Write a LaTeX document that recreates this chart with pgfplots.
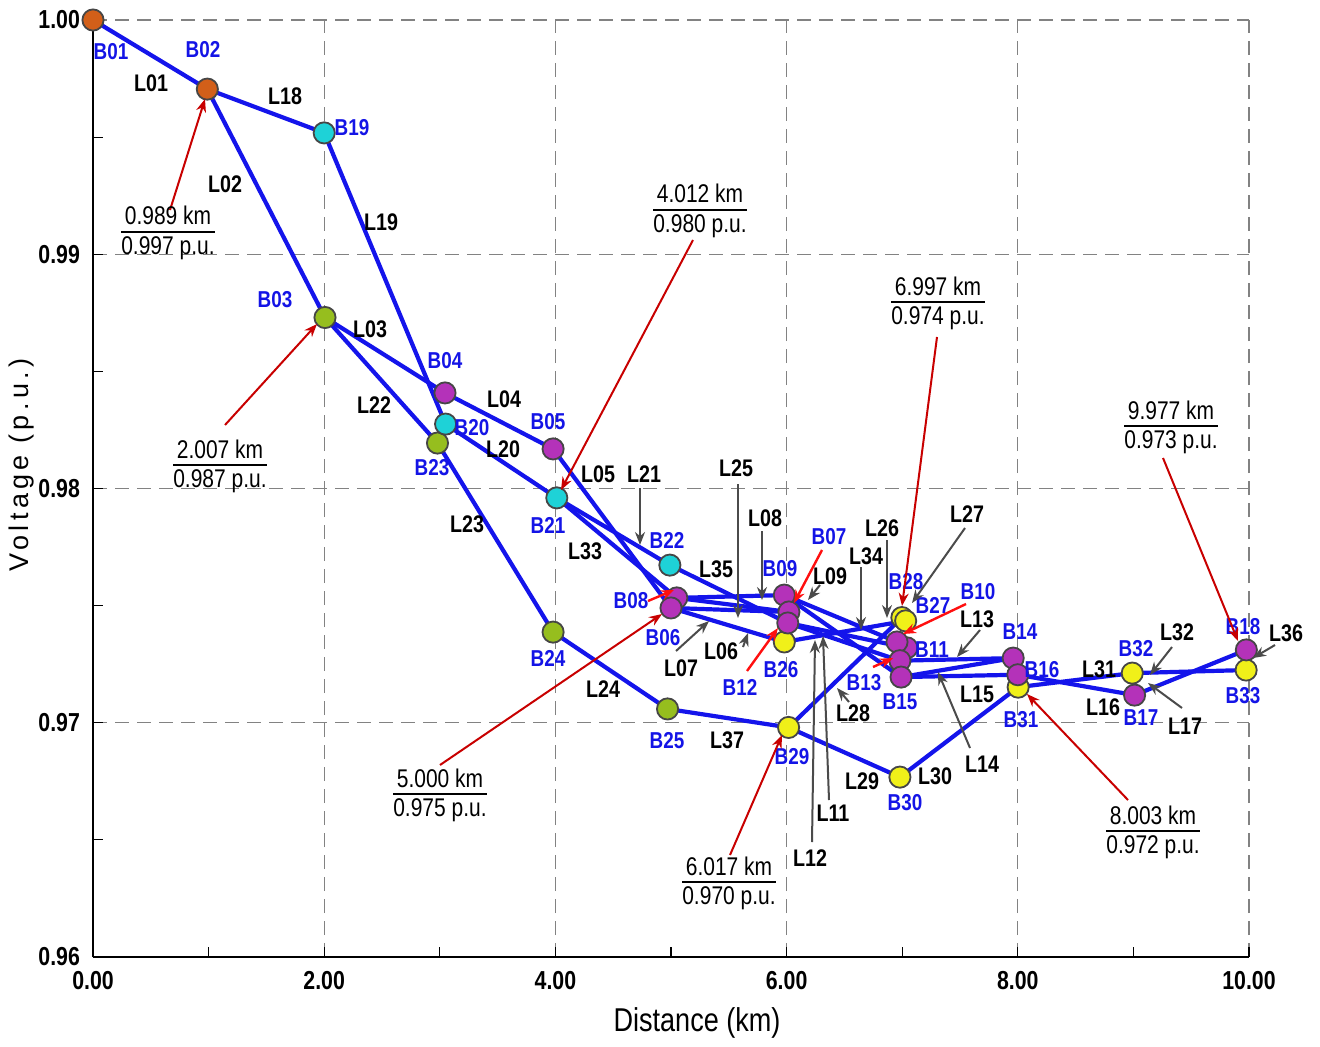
\documentclass[border=0pt]{standalone}
\usepackage{fontspec}
\setmainfont{Liberation Sans}
\newfontfamily\condfont[FakeStretch=0.82]{Liberation Sans}
\newfontfamily\spacedfont[LetterSpace=16]{Liberation Sans}
\usepackage{pgfplots}
\pgfplotsset{compat=1.18}
\usetikzlibrary{arrows.meta}

\definecolor{netblue}{RGB}{20,20,235}
\definecolor{busblue}{RGB}{20,20,230}
\definecolor{busorange}{RGB}{210,95,25}
\definecolor{buscyan}{RGB}{30,210,215}
\definecolor{busgreen}{RGB}{150,190,30}
\definecolor{busmag}{RGB}{180,50,185}
\definecolor{busyellow}{RGB}{240,240,25}
\definecolor{markedge}{RGB}{70,70,70}
\definecolor{annred}{RGB}{200,0,0}
\definecolor{hlred}{RGB}{255,15,15}
\definecolor{arrgray}{RGB}{75,75,75}
\definecolor{gridgray}{RGB}{130,130,130}

\newcommand{\tickf}{\condfont\bfseries\fontsize{13}{15}\selectfont}
\newcommand{\busf}{\condfont\bfseries\fontsize{11.5}{13}\selectfont}
\newcommand{\linef}{\condfont\bfseries\fontsize{12}{14}\selectfont}
\newcommand{\annf}{\condfont\fontsize{12.8}{14}\selectfont}
\setlength{\arrayrulewidth}{0.9pt}
\newcommand{\ann}[2]{\begin{tabular}{@{}c@{}}#1\\[-1pt]\hline\rule{0pt}{10.5pt}#2\end{tabular}}

\begin{document}
\begin{tikzpicture}
\useasboundingbox (0,0) rectangle (660pt,523pt);
\begin{axis}[
  at={(46.5pt,44.5pt)}, anchor=south west,
  scale only axis, width=578pt, height=468.5pt,
  xmin=0, xmax=10, ymin=0.96, ymax=1.0,
  clip=false,
  axis x line*=bottom, axis y line*=left,
  x axis line style={black, line width=1.3pt},
  y axis line style={black, line width=0.7pt},
  xtick={0,2,4,6,8,10},
  ytick={0.96,0.97,0.98,0.99,1.00},
  minor x tick num=1, minor y tick num=1,
  tick align=inside,
  major tick length=5pt, minor tick length=5pt,
  tick style={black, line width=0.6pt},
  grid=major,
  major grid style={gridgray, line width=0.6pt, dash pattern=on 7pt off 4pt},
  scaled ticks=false,
  /pgf/number format/fixed,
  /pgf/number format/fixed zerofill,
  /pgf/number format/precision=2,
  /pgf/number format/assume math mode=true,
  xticklabel style={font=\tickf, yshift=-3.5pt},
  yticklabel style={font=\tickf, xshift=-3pt},
  edge/.style={netblue, line width=2.1pt, forget plot},
  bus/.style={only marks, mark=*, mark size=5.3pt,
    mark options={fill=#1, draw=markedge, line width=0.9pt}},
]
% feeder sections L01 ... L37
\addplot[edge] coordinates {(0,1.0) (0.989,0.99705)};          % L01
\addplot[edge] coordinates {(0.989,0.99705) (2.007,0.9873)};   % L02
\addplot[edge] coordinates {(2.007,0.9873) (3.045,0.98408)};   % L03
\addplot[edge] coordinates {(3.045,0.98408) (3.98,0.98169)};   % L04
\addplot[edge] coordinates {(3.98,0.98169) (5.000,0.9749)};    % L05
\addplot[edge] coordinates {(5.000,0.9749) (6.02,0.97473)};    % L06
\addplot[edge] coordinates {(6.02,0.97473) (5.05,0.97533)};    % L07
\addplot[edge] coordinates {(5.05,0.97533) (5.98,0.97545)};    % L08
\addplot[edge] coordinates {(5.98,0.97545) (6.955,0.97345)};   % L09
\addplot[edge] coordinates {(6.955,0.97345) (7.04,0.97320)};   % L10
\addplot[edge] coordinates {(7.04,0.97320) (6.01,0.97426)};    % L11
\addplot[edge] coordinates {(6.01,0.97426) (6.98,0.97265)};    % L12
\addplot[edge] coordinates {(6.98,0.97265) (7.96,0.97276)};    % L13
\addplot[edge] coordinates {(7.96,0.97276) (6.99,0.97195)};    % L14
\addplot[edge] coordinates {(6.99,0.97195) (8.0,0.97205)};     % L15
\addplot[edge] coordinates {(8.0,0.97205) (9.01,0.97118)};     % L16
\addplot[edge] coordinates {(9.01,0.97118) (9.977,0.97311)};   % L17
\addplot[edge] coordinates {(0.989,0.99705) (2.0,0.99518)};    % L18
\addplot[edge] coordinates {(2.0,0.99518) (3.05,0.98275)};     % L19
\addplot[edge] coordinates {(3.05,0.98275) (4.012,0.9796)};    % L20
\addplot[edge] coordinates {(4.012,0.9796) (4.99,0.97673)};    % L21
\addplot[edge] coordinates {(2.007,0.9873) (2.98,0.98194)};    % L22
\addplot[edge] coordinates {(2.98,0.98194) (3.98,0.97387)};    % L23
\addplot[edge] coordinates {(3.98,0.97387) (4.97,0.97059)};    % L24
\addplot[edge] coordinates {(5.000,0.9749) (5.98,0.97345)};    % L25
\addplot[edge] coordinates {(5.98,0.97345) (7.03,0.97435)};    % L26
\addplot[edge] coordinates {(7.03,0.97435) (6.997,0.97449)};   % L27
\addplot[edge] coordinates {(6.997,0.97449) (6.017,0.9698)};   % L28
\addplot[edge] coordinates {(6.017,0.9698) (6.98,0.96768)};    % L29
\addplot[edge] coordinates {(6.98,0.96768) (8.003,0.97152)};   % L30
\addplot[edge] coordinates {(8.003,0.97152) (8.99,0.97212)};   % L31
\addplot[edge] coordinates {(8.99,0.97212) (9.975,0.97225)};   % L32
\addplot[edge] coordinates {(5.05,0.97533) (4.012,0.9796)};    % L33
\addplot[edge] coordinates {(5.98,0.97545) (6.99,0.97195)};    % L34
\addplot[edge] coordinates {(6.01,0.97426) (4.99,0.97673)};    % L35
\addplot[edge] coordinates {(9.977,0.97311) (9.975,0.97225)};  % L36
\addplot[edge] coordinates {(4.97,0.97059) (6.017,0.9698)};    % L37

% buses, grouped by colour
\addplot[bus=busgreen] coordinates {
  (2.007,0.9873) (2.98,0.98194) (3.98,0.97387) (4.97,0.97059)};
\addplot[bus=busyellow] coordinates {
  (5.98,0.97345) (6.997,0.97449) (7.03,0.97435) (6.017,0.9698)
  (6.98,0.96768) (8.003,0.97152) (8.99,0.97212) (9.975,0.97225)};
\addplot[bus=busmag] coordinates {
  (3.045,0.98408) (3.98,0.98169) (5.05,0.97533) (5.000,0.9749)
  (5.98,0.97545) (6.02,0.97473) (6.01,0.97426) (7.04,0.97320)
  (6.955,0.97345) (6.98,0.97265) (6.99,0.97195) (7.96,0.97276)
  (8.0,0.97205) (9.01,0.97118) (9.977,0.97311)};
\addplot[bus=buscyan] coordinates {
  (2.0,0.99518) (3.05,0.98275) (4.012,0.9796) (4.99,0.97673)};
\addplot[bus=busorange] coordinates {(0,1.0) (0.989,0.99705)};
\end{axis}

\begin{scope}[shift={(0pt,523pt)}, x=0.5pt, y=-0.5pt]
% axis titles
\node[font=\condfont\fontsize{16.5}{18}\selectfont] at (697,1023) {Distance (km)};
\node[font=\spacedfont\fontsize{13.5}{15}\selectfont, rotate=90] at (22,465) {Voltage (p.u.)};

% bus names
\begin{scope}[every node/.style={font=\busf, text=busblue, inner sep=0pt}]
\node at (111,52) {B01};   \node at (203,50) {B02};   \node at (352,128) {B19};
\node at (275,300) {B03};  \node at (445,361) {B04};  \node at (472,428) {B20};
\node at (432,468) {B23};  \node at (548,422) {B05};  \node at (548,525) {B21};
\node at (667,540) {B22};  \node at (631,601) {B08};  \node at (663,638) {B06};
\node at (548,658) {B24};  \node at (667,741) {B25};  \node at (780,569) {B09};
\node at (829,537) {B07};  \node at (781,670) {B26};  \node at (740,687) {B12};
\node at (792,757) {B29};  \node at (905,803) {B30};  \node at (906,582) {B28};
\node at (933,605) {B27};  \node at (978,592) {B10};  \node at (932,650) {B11};
\node at (864,683) {B13};  \node at (900,702) {B15};  \node at (1020,632) {B14};
\node at (1042,670) {B16}; \node at (1021,720) {B31}; \node at (1136,649) {B32};
\node at (1141,718) {B17}; \node at (1243,627) {B18}; \node at (1243,696) {B33};
\end{scope}

% line names
\begin{scope}[every node/.style={font=\linef, text=black, inner sep=0pt}]
\node at (151,83) {L01};   \node at (285,96) {L18};   \node at (225,184) {L02};
\node at (381,222) {L19};  \node at (370,329) {L03};  \node at (374,405) {L22};
\node at (504,399) {L04};  \node at (503,449) {L20};  \node at (467,524) {L23};
\node at (598,474) {L05};  \node at (644,474) {L21};  \node at (736,468) {L25};
\node at (585,551) {L33};  \node at (716,569) {L35};  \node at (765,518) {L08};
\node at (830,576) {L09};  \node at (882,528) {L26};  \node at (866,556) {L34};
\node at (967,514) {L27};  \node at (977,619) {L13};  \node at (721,651) {L06};
\node at (681,668) {L07};  \node at (603,689) {L24};  \node at (727,740) {L37};
\node at (853,713) {L28};  \node at (862,781) {L29};  \node at (935,776) {L30};
\node at (833,813) {L11};  \node at (810,858) {L12};  \node at (977,694) {L15};
\node at (982,764) {L14};  \node at (1099,669) {L31}; \node at (1103,707) {L16};
\node at (1185,726) {L17}; \node at (1177,632) {L32}; \node at (1286,633) {L36};
\end{scope}

% pointers from line names
\begin{scope}[arrgray, line width=1pt, -{Stealth[length=6.5pt,width=5pt]}]
\draw (640,488) -- (640,545);   \draw (738,484) -- (738,618);
\draw (762,531) -- (762,600);   \draw (820,585) -- (808,600);
\draw (861,567) -- (861,630);   \draw (887,540) -- (887,618);
\draw (965,528) -- (912,603);   \draw (980,630) -- (957,657);
\draw (676,651) -- (709,621);   \draw (743,647) -- (748,633);
\draw (849,702) -- (837,688);   \draw (829,800) -- (823,636);
\draw (812,842) -- (815,640);   \draw (970,748) -- (938,672);
\draw (1182,708) -- (1148,683); \draw (1172,647) -- (1150,675);
\draw (1275,645) -- (1253,658);
\end{scope}

% pointers from bus names
\begin{scope}[hlred, line width=1.2pt, -{Stealth[length=6.5pt,width=5pt]}]
\draw (822,550) -- (794,603);   \draw (966,604) -- (903,634);
\draw (747,671) -- (778,628);   \draw (873,667) -- (893,658);
\draw (648,601) -- (674,590);
\end{scope}

% distance / voltage call-outs
\begin{scope}[annred, line width=1pt, -{Stealth[length=6.5pt,width=5pt]}]
\draw (170,210) -- (205,99);    \draw (693,240) -- (561,490);
\draw (937,337) -- (902,606);   \draw (1163,458) -- (1238,641);
\draw (225,425) -- (317,324);   \draw (440,765) -- (662,614);
\draw (730,855) -- (782,735);   \draw (1128,800) -- (1027,694);
\end{scope}
\begin{scope}[every node/.style={font=\annf, inner sep=0pt}]
\node at (168,234) {\ann{0.989 km}{0.997 p.u.}};
\node at (700,212) {\ann{4.012 km}{0.980 p.u.}};
\node at (938,304) {\ann{6.997 km}{0.974 p.u.}};
\node at (1171,428) {\ann{9.977 km}{0.973 p.u.}};
\node at (220,467) {\ann{2.007 km}{0.987 p.u.}};
\node at (440,796) {\ann{5.000 km}{0.975 p.u.}};
\node at (729,884) {\ann{6.017 km}{0.970 p.u.}};
\node at (1153,833) {\ann{8.003 km}{0.972 p.u.}};
\end{scope}
\end{scope}
\end{tikzpicture}
\end{document}
